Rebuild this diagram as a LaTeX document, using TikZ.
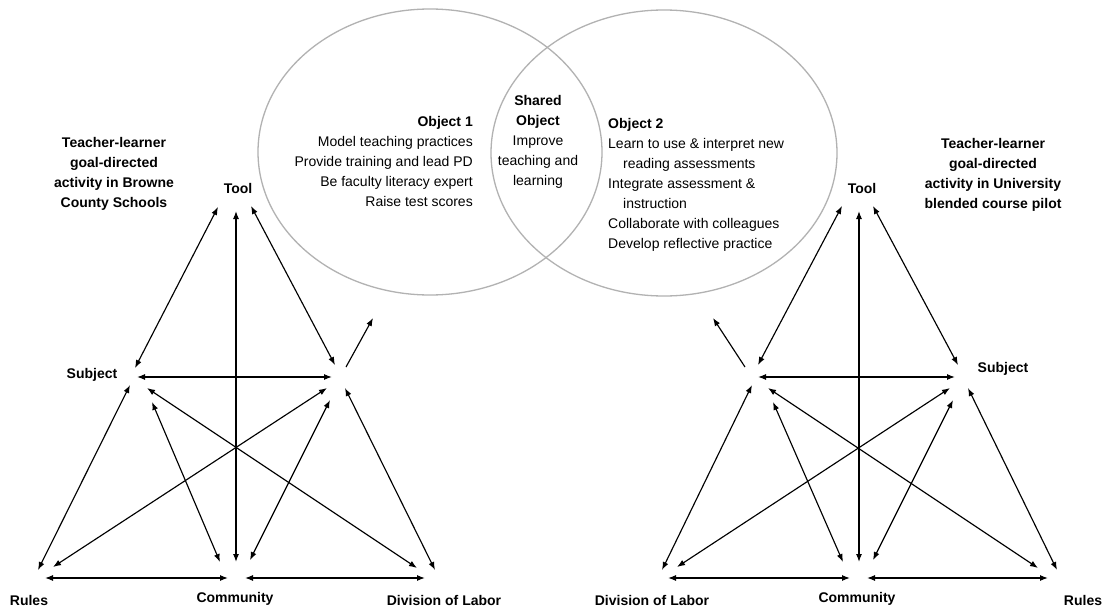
\documentclass[tikz,border=0pt]{standalone}
\usepackage{fontspec}
\setmainfont{Liberation Sans}
\usetikzlibrary{arrows.meta}
\begin{document}
\begin{tikzpicture}[x=1pt,y=-1pt,
  arr/.style={line width=1.15pt,{Latex[length=8pt,width=6pt]}-{Latex[length=8pt,width=6pt]}},
  sarr/.style={line width=1.15pt,-{Latex[length=8pt,width=6pt]}},
  lab/.style={font=\fontsize{14}{16}\selectfont\bfseries, inner sep=0pt, anchor=base},
  txt/.style={font=\fontsize{14}{20}\selectfont, inner sep=0pt, anchor=north},
  capt/.style={font=\fontsize{14}{20}\selectfont\bfseries, inner sep=0pt, anchor=north, align=center},
  venn/.style={draw=black!30, line width=1.3pt}]
\useasboundingbox[fill=white] (0,0) rectangle (1105,610);

% Venn ellipses
\draw[venn] (430,152) ellipse [x radius=172pt, y radius=143pt];
\draw[venn] (664,153) ellipse [x radius=173pt, y radius=143pt];

% texts in the ellipses
\node[txt, anchor=north east, align=right] (obj1) at (473,116)
  {\textbf{Object 1}\\Model teaching practices\\Provide training and lead PD\\Be faculty literacy expert\\Raise test scores};
\node[txt, align=center] (shared) at (538,95)
  {\textbf{Shared}\\\textbf{Object}\\Improve\\teaching and\\learning};
\node[txt, anchor=north west, align=left] (obj2) at (608,118)
  {\textbf{Object 2}\\Learn to use \& interpret new\\\hspace*{15pt}reading assessments\\Integrate assessment \&\\\hspace*{15pt}instruction\\Collaborate with colleagues\\Develop reflective practice};

% captions
\node[capt] (lcap) at (114,137) {Teacher-learner\\goal-directed\\activity in Browne\\County Schools};
\node[capt] (rcap) at (993,138) {Teacher-learner\\goal-directed\\activity in University\\blended course pilot};

% left triangle labels
\node[lab] (lTool) at (238,193) {Tool};
\node[lab] (lSubject) at (92,378) {Subject};
\node[lab] (lRules) at (29,605) {Rules};
\node[lab] (lCommunity) at (235,602) {Community};
\node[lab] (lDivision) at (444,605) {Division of Labor};

% right triangle labels
\node[lab] (rTool) at (862,193) {Tool};
\node[lab] (rSubject) at (1003,372) {Subject};
\node[lab] (rRules) at (1083,605) {Rules};
\node[lab] (rCommunity) at (857,602) {Community};
\node[lab] (rDivision) at (652,605) {Division of Labor};

% left arrow ends
\coordinate (lTS) at (218,207);  \coordinate (lST) at (135,368);
\coordinate (lTC) at (236,211);  \coordinate (lCT) at (236,562);
\coordinate (lTO) at (251,206);  \coordinate (lOT) at (335,365);
\coordinate (lOE) at (346,367);  \coordinate (lE)  at (373,318);
\coordinate (lSO) at (137,377);  \coordinate (lOS) at (332,377);
\coordinate (lSR) at (130,385);  \coordinate (lRS) at (38,570);
\coordinate (lSD) at (147,388);  \coordinate (lDS) at (417,568);
\coordinate (lSC) at (152,402);  \coordinate (lCS) at (220,562);
\coordinate (lOR) at (327,388);  \coordinate (lRO) at (53,567);
\coordinate (lOC) at (330,400);  \coordinate (lCO) at (250,560);
\coordinate (lOD) at (345,388);  \coordinate (lDO) at (435,570);
\coordinate (lRC) at (45,578);   \coordinate (lCR) at (228,578);
\coordinate (lCD) at (245,578);  \coordinate (lDC) at (425,578);

\draw[arr] (lTS) -- (lST);
\draw[arr] (lTC) -- (lCT);
\draw[arr] (lTO) -- (lOT);
\draw[sarr] (lOE) -- (lE);
\draw[arr] (lSO) -- (lOS);
\draw[arr] (lSR) -- (lRS);
\draw[arr] (lSD) -- (lDS);
\draw[arr] (lSC) -- (lCS);
\draw[arr] (lOR) -- (lRO);
\draw[arr] (lOC) -- (lCO);
\draw[arr] (lOD) -- (lDO);
\draw[arr] (lRC) -- (lCR);
\draw[arr] (lCD) -- (lDC);

% right arrow ends
\coordinate (rTS) at (873,206);  \coordinate (rST) at (958,365);
\coordinate (rTC) at (859,211);  \coordinate (rCT) at (859,562);
\coordinate (rTO) at (842,206);  \coordinate (rOT) at (758,365);
\coordinate (rOE) at (745,367);  \coordinate (rE)  at (713,318);
\coordinate (rOS) at (758,377);  \coordinate (rSO) at (955,377);
\coordinate (rSR) at (968,388);  \coordinate (rRS) at (1057,570);
\coordinate (rSD) at (950,388);  \coordinate (rDS) at (677,567);
\coordinate (rSC) at (953,400);  \coordinate (rCS) at (873,560);
\coordinate (rOR) at (768,388);  \coordinate (rRO) at (1038,568);
\coordinate (rOC) at (773,402);  \coordinate (rCO) at (843,562);
\coordinate (rOD) at (752,385);  \coordinate (rDO) at (662,570);
\coordinate (rDC) at (668,578);  \coordinate (rCD) at (850,578);
\coordinate (rCR) at (867,578);  \coordinate (rRC) at (1048,578);

\draw[arr] (rTS) -- (rST);
\draw[arr] (rTC) -- (rCT);
\draw[arr] (rTO) -- (rOT);
\draw[sarr] (rOE) -- (rE);
\draw[arr] (rOS) -- (rSO);
\draw[arr] (rSR) -- (rRS);
\draw[arr] (rSD) -- (rDS);
\draw[arr] (rSC) -- (rCS);
\draw[arr] (rOR) -- (rRO);
\draw[arr] (rOC) -- (rCO);
\draw[arr] (rOD) -- (rDO);
\draw[arr] (rDC) -- (rCD);
\draw[arr] (rCR) -- (rRC);
\end{tikzpicture}
\end{document}
